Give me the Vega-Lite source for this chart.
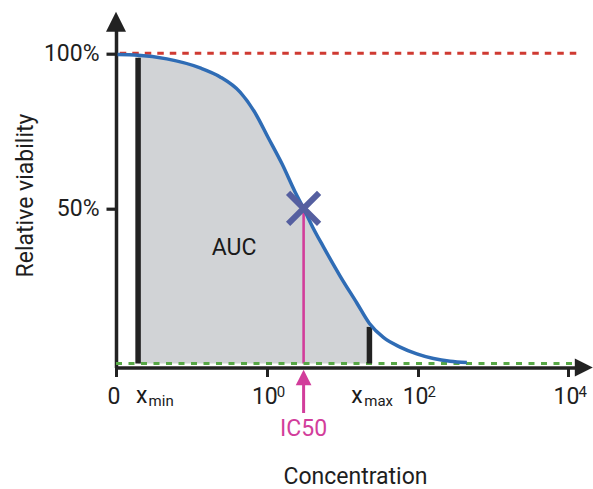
{
  "$schema": "https://vega.github.io/schema/vega-lite/v6.json",
  "width": 467.8,
  "height": 345.8,
  "autosize": {"type": "none"},
  "padding": {"left": 116, "top": 21.7, "right": 9.2, "bottom": 121.5},
  "background": "#ffffff",
  "config": {
    "font": "Roboto",
    "view": {"stroke": null},
    "axis": {
      "grid": false,
      "domainColor": "#222222",
      "tickColor": "#222222",
      "labelColor": "#1e1e1e",
      "titleColor": "#1e1e1e",
      "labelFont": "Roboto",
      "titleFont": "Roboto",
      "labelFontSize": 23,
      "titleFontSize": 23,
      "titleFontWeight": "normal"
    }
  },
  "datasets": {
    "curve": [
      {"L": -1.979, "v": 99.6},
      {"L": -1.707, "v": 99.4},
      {"L": -1.326, "v": 98.2},
      {"L": -0.885, "v": 95.3},
      {"L": -0.619, "v": 92.4},
      {"L": -0.354, "v": 87.5},
      {"L": -0.155, "v": 80.8},
      {"L": 0.021, "v": 72.7},
      {"L": 0.203, "v": 64.3},
      {"L": 0.375, "v": 55.3},
      {"L": 0.488, "v": 50.0},
      {"L": 0.614, "v": 43.7},
      {"L": 0.751, "v": 37.6},
      {"L": 0.972, "v": 28.2},
      {"L": 1.194, "v": 19.5},
      {"L": 1.361, "v": 12.9},
      {"L": 1.546, "v": 8.4},
      {"L": 1.768, "v": 5.3},
      {"L": 1.989, "v": 3.1},
      {"L": 2.21, "v": 1.6},
      {"L": 2.431, "v": 0.7},
      {"L": 2.653, "v": 0.3}
    ],
    "bounds": [
      {"name": "xmin", "L": -1.707, "v": 98.6, "main": "x", "sub": "min"},
      {"name": "xmax", "L": 1.361, "v": 11.8, "main": "x", "sub": "max"}
    ],
    "levels": [
      {"name": "top", "L0": -1.95, "L1": 4.155, "v": 100},
      {"name": "bottom", "L0": -2, "L1": 4.1, "v": 0}
    ],
    "powers": [
      {"L": 0, "v": 0, "power": "0"},
      {"L": 2, "v": 0, "power": "2"},
      {"L": 4, "v": 0, "power": "4"}
    ],
    "ic50": [{"L": 0.488, "v": 50, "text": "IC50"}],
    "notes": [{"L": -0.434, "v": 37.2, "text": "AUC"}],
    "axisEnds": [
      {"name": "up", "L": -2, "v": 110.19},
      {"name": "right", "L": 4.204, "v": -1.29}
    ]
  },
  "encoding": {
    "x": {
      "field": "L",
      "type": "quantitative",
      "scale": {"domain": [-2, 4.204], "nice": false, "zero": false},
      "axis": {
        "values": [-2, 0, 2, 4],
        "labelExpr": "datum.value == -2 ? '0' : '10'",
        "labelFlush": false,
        "labelOverlap": false,
        "labelOffset": -2.5,
        "labelPadding": 9,
        "tickSize": 9,
        "tickWidth": 3,
        "domainWidth": 3.5,
        "title": "Concentration",
        "titleX": 239,
        "titleY": 109,
        "titleBaseline": "middle",
        "titleAlign": "center"
      }
    },
    "y": {
      "field": "v",
      "type": "quantitative",
      "scale": {"domain": [-1.29, 110.19], "nice": false, "zero": false},
      "axis": {
        "values": [50, 100],
        "labelExpr": "datum.value + '%'",
        "labelPadding": 7,
        "tickSize": 10,
        "tickWidth": 3.2,
        "domainWidth": 3.5,
        "title": "Relative viability",
        "titleX": -91,
        "titleY": 173.3,
        "titleAngle": 270,
        "titleBaseline": "middle",
        "titleAlign": "center"
      }
    }
  },
  "layer": [
    {
      "data": {"name": "curve"},
      "transform": [{"filter": "datum.L >= -1.707 && datum.L <= 1.361"}],
      "mark": {"type": "area", "color": "#d1d3d6", "interpolate": "monotone"},
      "encoding": {"y2": {"datum": 0}}
    },
    {
      "data": {"name": "levels"},
      "transform": [{"filter": "datum.name == 'top'"}],
      "mark": {"type": "rule", "color": "#cf3a32", "strokeWidth": 3, "strokeDash": [6.5, 6]},
      "encoding": {"x": {"field": "L0", "type": "quantitative"}, "x2": {"field": "L1"}}
    },
    {
      "data": {"name": "ic50"},
      "mark": {"type": "rule", "color": "#d23d9b", "strokeWidth": 2.6},
      "encoding": {"y2": {"datum": 0}}
    },
    {
      "data": {"name": "levels"},
      "transform": [{"filter": "datum.name == 'bottom'"}],
      "mark": {"type": "rule", "color": "#58a846", "strokeWidth": 3, "strokeDash": [6, 6.5]},
      "encoding": {"x": {"field": "L0", "type": "quantitative"}, "x2": {"field": "L1"}}
    },
    {
      "data": {"name": "bounds"},
      "mark": {"type": "rule", "color": "#222222", "strokeWidth": 5.5},
      "encoding": {"y2": {"datum": 0}}
    },
    {
      "data": {"name": "curve"},
      "mark": {"type": "line", "color": "#2f6cb5", "strokeWidth": 3.5, "interpolate": "monotone"}
    },
    {
      "data": {"name": "ic50"},
      "mark": {"type": "point", "shape": "M-1,-1L1,1M-1,1L1,-1", "filled": false, "stroke": "#555fa0", "strokeWidth": 6, "size": 961, "opacity": 1}
    },
    {
      "data": {"name": "ic50"},
      "mark": {"type": "point", "shape": "M0,-1L-1,1L1,1Z", "filled": true, "fill": "#d23d9b", "strokeWidth": 0, "size": 246, "opacity": 1},
      "encoding": {"y": {"datum": -4.51, "type": "quantitative"}}
    },
    {
      "data": {"name": "ic50"},
      "mark": {"type": "rule", "color": "#d23d9b", "strokeWidth": 3},
      "encoding": {
        "y": {"datum": -5.32, "type": "quantitative"},
        "y2": {"datum": -15.96}
      }
    },
    {
      "data": {"name": "ic50"},
      "mark": {"type": "text", "color": "#d23d9b", "fontSize": 23, "align": "center", "baseline": "middle"},
      "encoding": {
        "y": {"datum": -21.12, "type": "quantitative"},
        "text": {"field": "text"}
      }
    },
    {
      "data": {"name": "notes"},
      "mark": {"type": "text", "color": "#1a1a1a", "fontSize": 23, "align": "center", "baseline": "middle"},
      "encoding": {"text": {"field": "text"}}
    },
    {
      "data": {"name": "powers"},
      "mark": {"type": "text", "color": "#1e1e1e", "fontSize": 15, "align": "left", "baseline": "alphabetic", "dx": 10},
      "encoding": {
        "y": {"datum": -10.8, "type": "quantitative"},
        "text": {"field": "power", "type": "nominal"}
      }
    },
    {
      "data": {"name": "bounds"},
      "transform": [{"filter": "datum.name == 'xmin'"}],
      "mark": {"type": "text", "color": "#1a1a1a", "fontSize": 23, "align": "left", "baseline": "alphabetic", "dx": -2},
      "encoding": {
        "y": {"datum": -12.83, "type": "quantitative"},
        "text": {"field": "main"}
      }
    },
    {
      "data": {"name": "bounds"},
      "transform": [{"filter": "datum.name == 'xmin'"}],
      "mark": {"type": "text", "color": "#1a1a1a", "fontSize": 15, "align": "left", "baseline": "alphabetic", "dx": 10.5},
      "encoding": {
        "y": {"datum": -13.6, "type": "quantitative"},
        "text": {"field": "sub"}
      }
    },
    {
      "data": {"name": "bounds"},
      "transform": [{"filter": "datum.name == 'xmax'"}],
      "mark": {"type": "text", "color": "#1a1a1a", "fontSize": 23, "align": "left", "baseline": "alphabetic", "dx": -18.3},
      "encoding": {
        "y": {"datum": -12.83, "type": "quantitative"},
        "text": {"field": "main"}
      }
    },
    {
      "data": {"name": "bounds"},
      "transform": [{"filter": "datum.name == 'xmax'"}],
      "mark": {"type": "text", "color": "#1a1a1a", "fontSize": 15, "align": "left", "baseline": "alphabetic", "dx": -5.2},
      "encoding": {
        "y": {"datum": -13.6, "type": "quantitative"},
        "text": {"field": "sub"}
      }
    },
    {
      "data": {"name": "axisEnds"},
      "transform": [{"filter": "datum.name == 'up'"}],
      "mark": {"type": "point", "shape": "M0,-1L-1,1L1,1Z", "filled": true, "fill": "#222222", "strokeWidth": 0, "size": 400, "opacity": 1}
    },
    {
      "data": {"name": "axisEnds"},
      "transform": [{"filter": "datum.name == 'right'"}],
      "mark": {"type": "point", "shape": "M1,0L-1,-1L-1,1Z", "filled": true, "fill": "#222222", "strokeWidth": 0, "size": 324, "opacity": 1}
    }
  ]
}
